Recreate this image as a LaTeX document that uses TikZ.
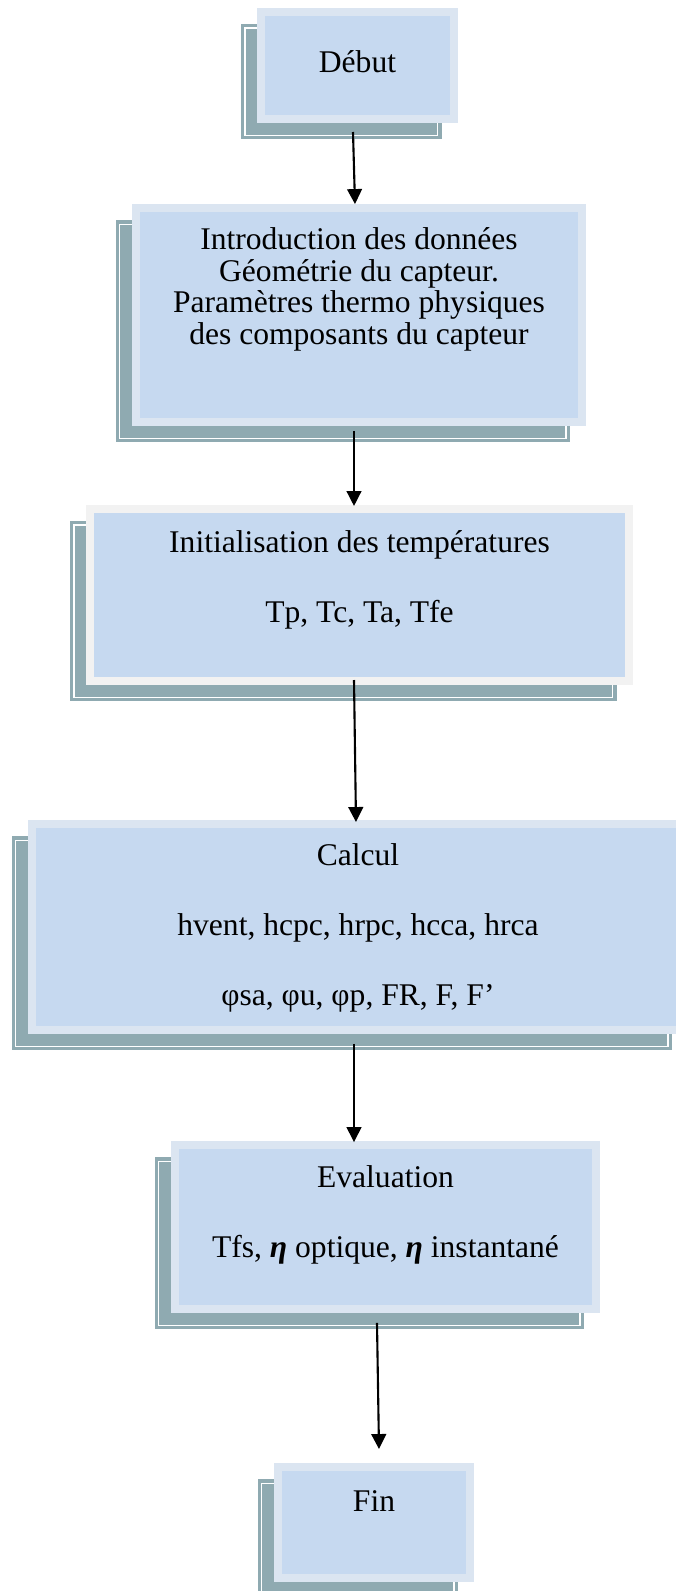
\documentclass[tikz,border=0pt]{standalone}
\usepackage{fontspec}
\setmainfont{Liberation Serif}
\usetikzlibrary{arrows.meta}

\definecolor{fondboite}{HTML}{C6D9F0}
\definecolor{bordboite}{HTML}{DBE5F1}
\definecolor{bordgris}{HTML}{F2F2F2}
\definecolor{ombre}{HTML}{8FAAB1}

\begin{document}
\begin{tikzpicture}[x=0.38pt,y=-0.38pt,>={Triangle[length=5.7pt,width=5.6pt]},
  boite/.style={rectangle,fill=fondboite,draw=bordboite,line width=3pt,
    preaction={draw=ombre,fill=ombre,transform canvas={xshift=-6.1pt,yshift=-6.1pt}},
    preaction={draw=white,line width=0.4pt,transform canvas={xshift=-6.1pt,yshift=-6.1pt}}},
  texte/.style={align=center,inner sep=0pt,font=\fontsize{12}{12}\selectfont},
  fleche/.style={->,line width=0.8pt}]
\useasboundingbox (0,0) rectangle (676,1591);

% les etapes
\node[boite,minimum width=73.3pt,minimum height=40.7pt]  (debut)  at (357.5,65.5) {};
\node[boite,minimum width=169.5pt,minimum height=81.3pt] (intro)  at (359,315)    {};
\node[boite,draw=bordgris,minimum width=204.8pt,minimum height=65.4pt] (init) at (359.5,595) {};
\node[boite,minimum width=247.8pt,minimum height=78.3pt] (calcul) at (358,927)    {};
\node[boite,minimum width=160pt,minimum height=62.3pt]   (eval)   at (385.5,1227) {};
\node[boite,minimum width=73pt,minimum height=42.2pt]    (fin)    at (374,1522.5) {};

% textes (base = derniere ligne)
\node[texte,anchor=base] (t-debut)  at (357.5,72) {Début};
\node[texte,anchor=base] (t-intro)  at (359,344.5) {Introduction des données\\Géométrie du capteur.\\Paramètres thermo physiques\\des composants du capteur};
\node[texte,anchor=base] (t-init)   at (359.5,622) {Initialisation des températures\\[14.6pt]Tp, Tc, Ta, Tfe};
\node[texte,anchor=base] (t-calcul) at (358,1005)  {Calcul\\[14.6pt]hvent, hcpc, hrpc, hcca, hrca\\[14.6pt]φsa, φu, φp, FR, F, F’};
\node[texte,anchor=base] (t-eval)   at (385.5,1257) {Evaluation\\[14.6pt]Tfs, {\bfseries\itshape η} optique, {\bfseries\itshape η} instantané};
\node[texte,anchor=base] (t-fin)    at (374,1511) {Fin};

% les fleches
\draw[fleche] ([shift={(-4.5,9)}]debut.south) -- ([shift={(-4,0)}]intro.north);
\draw[fleche] ([shift={(-5,5)}]intro.south)   -- ([shift={(-5.5,1)}]init.north);
\draw[fleche] ([shift={(-5.5,-5)}]init.south) -- ([shift={(-2,2)}]calcul.north);
\draw[fleche] ([shift={(-4,10)}]calcul.south) -- ([shift={(-31.5,1)}]eval.north);
\draw[fleche] ([shift={(-8.5,10)}]eval.south) -- ([shift={(5,-14)}]fin.north);
\end{tikzpicture}
\end{document}
